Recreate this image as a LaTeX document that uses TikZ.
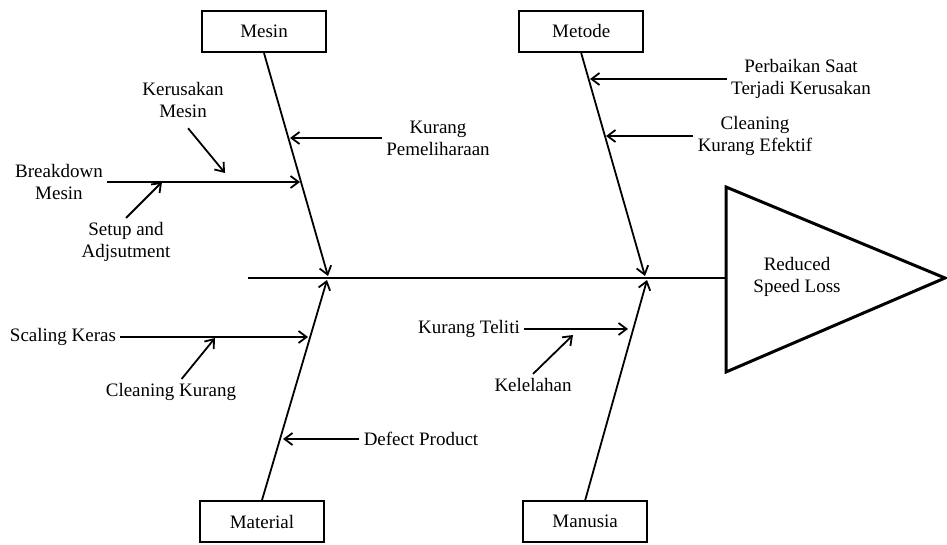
\documentclass[tikz,border=0pt]{standalone}
\usepackage{fontspec}
\setmainfont{Liberation Serif}
\usetikzlibrary{arrows.meta,positioning,calc}

\begin{document}
\begin{tikzpicture}[x=0.5pt, y=-0.5pt, >={Straight Barb[length=4pt,width=6pt]},
  every node/.style={font=\fontsize{9.5}{11}\selectfont, align=center, inner sep=2pt},
  cat/.style={draw, line width=1.1pt, minimum width=62pt, minimum height=20.5pt},
  bone/.style={->, line width=0.9pt}]
\useasboundingbox (0,0) rectangle (947,545);
% categories
\node (mesin) [cat] at (264,31.5) {Mesin};
\node (metode) [cat, right=95.5pt of mesin] {Metode};
\node (material) [cat, below=223.5pt of mesin, xshift=-1pt] {Material};
\node (manusia) [cat, right=98.5pt of material] {Manusia};
% spine and head
\coordinate (tail) at (248,278);
\coordinate (headL) at (726,278);
\draw[line width=1pt] (tail) -- (headL);
\draw[line width=1.5pt] (726,187) -- (945,278) -- (726,372) -- cycle;
\node (effect) at (797,277) {Reduced\\Speed Loss};
% bones
\coordinate (mesinend) at (328,276);
\coordinate (metodeend) at (645,276);
\coordinate (materialend) at (327,280);
\coordinate (manusiaend) at (647,280);
\draw[bone] (mesin.south) -- (mesinend);
\draw[bone] (metode.south) -- (metodeend);
\draw[bone] (material.north) -- (materialend);
\draw[bone] (manusia.north) -- (manusiaend);
% mesin
\coordinate (mesinA) at (290,138);
\coordinate (mesinB) at (300,182);
\node (kurpem) at (438,138) {Kurang\\Pemeliharaan};
\node (breakdown) at (59,182) {Breakdown\\Mesin};
\node (kerus) at (183,100) {Kerusakan\\Mesin};
\node (setup) at (126,242) {Setup and\\Adjsutment};
\coordinate (kerustip) at (225,173);
\coordinate (setuptip) at (162,182);
\draw[bone] (kurpem.west) -- (kurpem.west -| mesinA);
\draw[bone] (breakdown.east) -- (breakdown.east -| mesinB);
\draw[bone, shorten <=4pt] (kerus.south) -- (kerustip);
\draw[bone] (setup.north) -- (setuptip);
% metode
\coordinate (metodeA) at (590,79);
\coordinate (metodeB) at (606,135);
\node (perbaikan) at (801,79) {Perbaikan Saat\\Terjadi Kerusakan};
\node (clefektif) at (755,136) {Cleaning\\Kurang Efektif};
\draw[bone] (perbaikan.west) -- (perbaikan.west -| metodeA);
\draw[bone] (clefektif.west) -- (clefektif.west -| metodeB);
% material
\coordinate (materialA) at (308,337);
\coordinate (materialB) at (283,439);
\node (scaling) at (63,337) {Scaling Keras};
\node (clkurang) at (171,392) {Cleaning Kurang};
\node (defect) at (421,439) {Defect Product};
\coordinate (clkurangtip) at (215,338);
\draw[bone] (scaling.east) -- (scaling.east -| materialA);
\draw[bone] (defect.west) -- (defect.west -| materialB);
\draw[bone] (clkurang) -- (clkurangtip);
% manusia
\coordinate (manusiaA) at (628,329);
\node (teliti) at (469,329) {Kurang Teliti};
\node (lelah) at (533,385) {Kelelahan};
\coordinate (lelahtip) at (573,335);
\draw[bone] (teliti.east) -- (teliti.east -| manusiaA);
\draw[bone] (lelah.north) -- (lelahtip);
\end{tikzpicture}
\end{document}
